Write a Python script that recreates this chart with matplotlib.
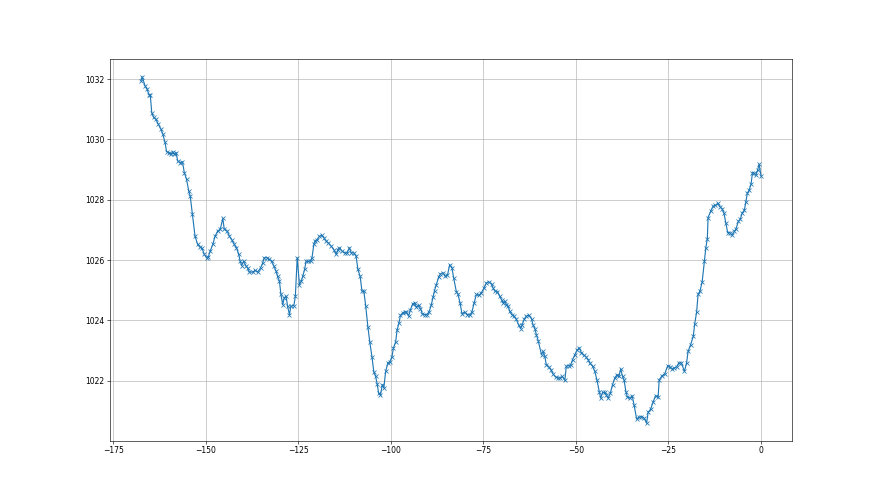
import matplotlib
matplotlib.use("Agg")
import matplotlib.pyplot as plt

# hours relative to now, pressure in hPa
hours = [
    -167.5, -167.2, -166.4, -165.9, -165.3, -165.0, -164.6, -164.1, -163.5, -162.8,
    -162.1, -161.6, -161.0, -160.6, -159.9, -159.4, -158.9, -158.5, -158.0, -157.6,
    -156.9, -156.3, -155.8, -155.2, -154.6, -154.2, -153.6, -152.9, -152.2, -151.6,
    -151.0, -150.4, -149.8, -149.3, -148.8, -148.1, -147.5, -146.8, -146.1, -145.4,
    -145.0, -144.3, -143.6, -143.0, -142.3, -141.7, -141.1, -140.7, -140.3, -139.8,
    -139.1, -138.7, -138.2, -137.3, -136.7, -136.0, -135.2, -134.6, -134.2, -133.5,
    -132.8, -132.2, -131.6, -131.0, -130.6, -130.1, -129.7, -129.2, -128.8, -128.3,
    -127.9, -127.4, -127.0, -126.2, -125.8, -125.3, -124.7, -124.2, -123.8, -123.3,
    -122.9, -122.3, -121.7, -121.3, -120.8, -120.5, -119.9, -119.3, -118.7, -118.1,
    -117.5, -116.9, -116.1, -115.4, -114.8, -114.3, -113.9, -113.2, -112.5, -111.8,
    -111.2, -110.7, -110.0, -109.4, -108.9, -108.3, -107.8, -107.3, -106.8, -106.2,
    -105.7, -105.1, -104.6, -104.1, -103.7, -103.3, -102.8, -102.3, -101.9, -101.4,
    -100.8, -100.3, -99.7, -99.3, -98.7, -98.3, -97.8, -97.4, -96.8, -96.3,
    -95.8, -95.2, -94.7, -94.1, -93.6, -93.1, -92.5, -92.0, -91.5, -90.9,
    -90.3, -89.7, -89.1, -88.6, -88.2, -87.7, -87.1, -86.6, -85.9, -85.3,
    -84.7, -84.1, -83.5, -83.0, -82.3, -81.9, -81.3, -80.8, -80.1, -79.3,
    -78.7, -78.1, -77.5, -76.9, -76.2, -75.6, -74.8, -74.2, -73.6, -72.8,
    -72.4, -71.9, -71.2, -70.6, -70.1, -69.7, -69.2, -68.8, -68.3, -67.9,
    -67.3, -66.7, -66.1, -65.5, -64.9, -64.5, -64.0, -63.4, -62.8, -62.0,
    -61.6, -61.1, -60.7, -60.2, -59.3, -58.9, -58.4, -58.0, -57.3, -56.8,
    -56.2, -55.5, -54.8, -54.2, -53.7, -53.0, -52.6, -52.0, -51.4, -50.9,
    -50.3, -49.7, -49.1, -48.5, -47.9, -47.3, -46.7, -46.3, -45.5, -44.9,
    -44.3, -43.7, -43.3, -42.8, -42.2, -41.8, -41.3, -40.7, -40.1, -39.5,
    -38.9, -38.4, -37.9, -37.4, -37.0, -36.5, -36.1, -35.4, -34.8, -34.3,
    -33.6, -33.0, -32.3, -31.6, -30.9, -30.5, -29.8, -29.1, -28.5, -27.8,
    -27.5, -26.7, -26.0, -25.2, -24.6, -24.0, -23.5, -22.8, -22.2, -21.5,
    -20.7, -20.1, -19.7, -19.0, -18.3, -17.9, -17.4, -17.0, -16.5, -15.9,
    -15.3, -14.9, -14.5, -14.3, -13.6, -12.9, -12.3, -11.7, -11.1, -10.5,
    -10.0, -9.5, -9.0, -8.4, -7.8, -7.2, -6.8, -6.1, -5.6, -5.1,
    -4.5, -4.1, -3.7, -3.2, -2.7, -2.3, -1.8, -1.4, -0.9, -0.5,
    0.0,
]

pressure = [
    1031.94, 1032.08, 1031.78, 1031.67, 1031.48, 1031.48, 1030.89, 1030.73, 1030.67, 1030.50,
    1030.34, 1030.17, 1029.90, 1029.60, 1029.56, 1029.51, 1029.60, 1029.51, 1029.56, 1029.29,
    1029.23, 1029.26, 1028.90, 1028.68, 1028.29, 1028.12, 1027.52, 1026.79, 1026.52, 1026.43,
    1026.39, 1026.19, 1026.08, 1026.11, 1026.30, 1026.52, 1026.79, 1026.96, 1027.02, 1027.38,
    1027.02, 1026.98, 1026.79, 1026.68, 1026.52, 1026.41, 1026.19, 1025.96, 1025.82, 1025.96,
    1025.80, 1025.74, 1025.60, 1025.60, 1025.66, 1025.60, 1025.74, 1025.91, 1026.08, 1026.08,
    1026.02, 1025.96, 1025.80, 1025.63, 1025.46, 1025.30, 1024.86, 1024.52, 1024.75, 1024.80,
    1024.47, 1024.19, 1024.47, 1024.49, 1024.80, 1026.08, 1025.19, 1025.30, 1025.46, 1025.69,
    1025.96, 1025.96, 1025.96, 1026.08, 1026.52, 1026.63, 1026.68, 1026.79, 1026.82, 1026.74,
    1026.63, 1026.57, 1026.46, 1026.35, 1026.19, 1026.35, 1026.41, 1026.30, 1026.24, 1026.24,
    1026.41, 1026.24, 1026.24, 1026.13, 1025.69, 1025.46, 1024.97, 1024.97, 1024.49, 1023.78,
    1023.29, 1022.79, 1022.29, 1022.14, 1021.89, 1021.59, 1021.53, 1021.87, 1021.76, 1022.31,
    1022.59, 1022.62, 1022.79, 1023.09, 1023.29, 1023.69, 1023.92, 1024.17, 1024.25, 1024.28,
    1024.28, 1024.14, 1024.36, 1024.55, 1024.58, 1024.44, 1024.50, 1024.39, 1024.22, 1024.19,
    1024.19, 1024.28, 1024.50, 1024.77, 1024.99, 1025.19, 1025.43, 1025.54, 1025.58, 1025.46,
    1025.50, 1025.85, 1025.74, 1025.39, 1024.95, 1024.88, 1024.58, 1024.22, 1024.28, 1024.19,
    1024.17, 1024.28, 1024.58, 1024.86, 1024.83, 1024.91, 1025.08, 1025.24, 1025.28, 1025.21,
    1025.08, 1024.97, 1024.95, 1024.80, 1024.69, 1024.58, 1024.63, 1024.52, 1024.47, 1024.30,
    1024.19, 1024.14, 1024.03, 1023.86, 1023.73, 1023.86, 1024.03, 1024.14, 1024.17, 1024.06,
    1023.86, 1023.73, 1023.53, 1023.33, 1022.86, 1022.97, 1022.81, 1022.53, 1022.46, 1022.37,
    1022.23, 1022.12, 1022.09, 1022.09, 1022.14, 1022.01, 1022.48, 1022.50, 1022.53, 1022.70,
    1022.86, 1023.01, 1023.09, 1022.92, 1022.86, 1022.79, 1022.70, 1022.59, 1022.48, 1022.31,
    1022.01, 1021.64, 1021.42, 1021.61, 1021.61, 1021.53, 1021.42, 1021.59, 1021.87, 1022.09,
    1022.20, 1022.14, 1022.39, 1022.14, 1022.03, 1021.64, 1021.46, 1021.42, 1021.50, 1021.20,
    1020.73, 1020.79, 1020.81, 1020.76, 1020.59, 1020.95, 1021.06, 1021.31, 1021.50, 1021.46,
    1022.03, 1022.17, 1022.23, 1022.50, 1022.46, 1022.39, 1022.42, 1022.46, 1022.59, 1022.59,
    1022.31, 1022.59, 1022.97, 1023.20, 1023.47, 1023.89, 1024.27, 1024.86, 1024.97, 1025.27,
    1025.96, 1026.41, 1026.71, 1027.41, 1027.62, 1027.79, 1027.81, 1027.88, 1027.77, 1027.70,
    1027.55, 1027.22, 1026.91, 1026.91, 1026.82, 1026.96, 1027.02, 1027.29, 1027.35, 1027.55,
    1027.66, 1027.92, 1028.21, 1028.32, 1028.51, 1028.90, 1028.88, 1028.81, 1028.99, 1029.18,
    1028.79,
]

fig, ax = plt.subplots(figsize=(16, 9))
ax.plot(hours, pressure, marker="x")
ax.grid(True)
fig.savefig("out.png", dpi=55)
plt.close(fig)
